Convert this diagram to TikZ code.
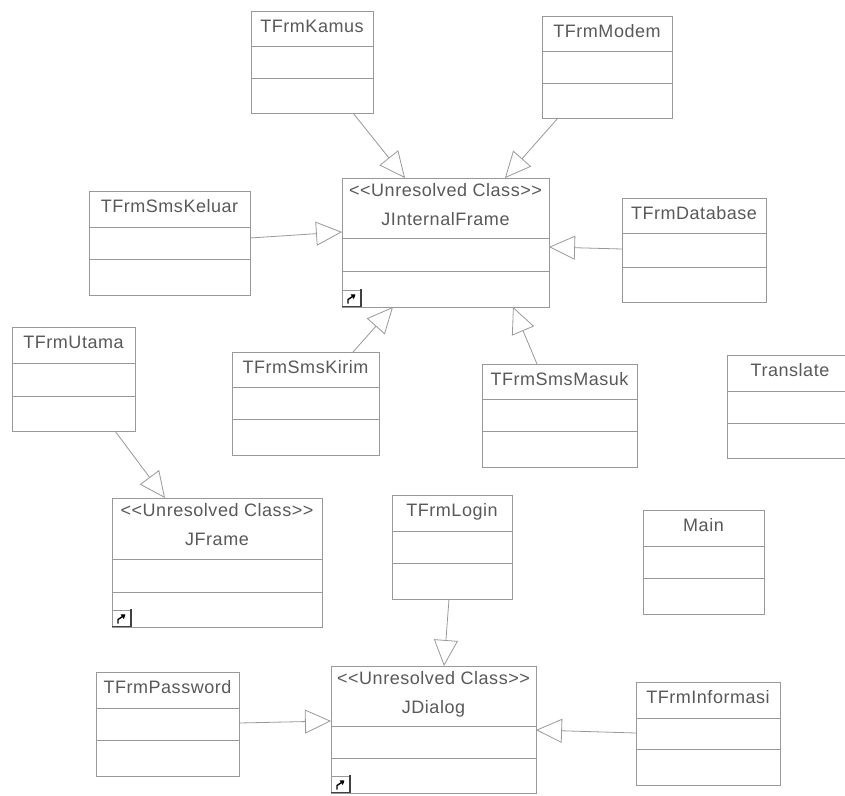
\documentclass[tikz,border=0pt]{standalone}
\usepackage{fontspec}
\newfontfamily\umlfont{Liberation Sans}[LetterSpace=3]
\usetikzlibrary{arrows.meta}
\definecolor{linegray}{gray}{0.6}
\definecolor{textgray}{gray}{0.35}
\tikzset{
	umlbox/.style={draw=linegray,line width=0.8pt,rectangle,anchor=north west,inner sep=0pt,outer sep=0pt},
	umldiv/.style={draw=linegray,line width=0.8pt},
	umltitle/.style={anchor=base,inner sep=0pt,text=textgray,font=\umlfont\fontsize{18}{20}\selectfont},
	gen/.style={draw=linegray,line width=0.8pt,-{Triangle[open,length=26pt,width=24pt]}},
}
% box: name, x, y, width, height, first divider, second divider
\newcommand\umlbox[7]{%
	\node[umlbox,minimum width=#4pt,minimum height=#5pt] (#1) at (#2,#3) {};
	\draw[umldiv] ([yshift=-#6pt]#1.north west) -- ([yshift=-#6pt]#1.north east)
		([yshift=-#7pt]#1.north west) -- ([yshift=-#7pt]#1.north east);}
\newcommand\umlclass[8]{%
	\umlbox{#1}{#2}{#3}{#4}{#5}{#6}{#7}
	\node[umltitle] (#1-name) at ([yshift=-21pt]#1.north) {#8};}
\newcommand\umlextern[8]{%
	\umlbox{#1}{#2}{#3}{#4}{#5}{#6}{#7}
	\node[umltitle] (#1-st) at ([yshift=-18pt]#1.north) {<<Unresolved Class>>};
	\node[umltitle] (#1-name) at ([yshift=-47pt]#1.north) {#8};
	\draw[linegray,fill=white,line width=0.6pt] (#1.south west) rectangle ++(19,-17);
	\draw[black!75,line width=1.3pt] ([yshift=0.6pt]#1.south west) -- ++(19,0) -- ++(0,-17);
	\draw[black,line width=1.4pt,-{Triangle[length=4pt,width=5.5pt]}] ([xshift=6pt,yshift=3.5pt]#1.south west)
		-- ++(0,-4) -- ([xshift=13.5pt,yshift=12.5pt]#1.south west);}

\begin{document}
\begin{tikzpicture}[x=1pt,y=-1pt]
	\clip (0,0) rectangle (845,795);
	\fill[white] (0,0) rectangle (845,795);
	\umlclass{kamus}{251}{11}{122}{102}{35}{67}{TFrmKamus}
	\umlclass{modem}{542}{16}{130}{102}{35}{67}{TFrmModem}
	\umlextern{jif}{342}{178}{207}{129}{60}{93}{JInternalFrame}
	\umlclass{keluar}{89}{191}{161}{104}{36}{68}{TFrmSmsKeluar}
	\umlclass{database}{622}{198}{144}{104}{35}{69}{TFrmDatabase}
	\umlclass{utama}{12}{327}{123}{104}{36}{69}{TFrmUtama}
	\umlclass{kirim}{232}{352}{147}{103}{35}{67}{TFrmSmsKirim}
	\umlclass{masuk}{482}{364}{155}{103}{35}{67}{TFrmSmsMasuk}
	\umlbox{translate}{727}{355}{128}{103}{36}{68}
	\node[umltitle] (translate-name) at ([yshift=-21pt,xshift=63pt]translate.north west) {Translate};
	\umlextern{jframe}{112}{498}{210}{129}{61}{94}{JFrame}
	\umlclass{login}{392}{495}{120}{104}{36}{68}{TFrmLogin}
	\umlclass{main}{643}{510}{121}{104}{36}{68}{Main}
	\umlclass{password}{96}{672}{143}{104}{36}{68}{TFrmPassword}
	\umlextern{jdialog}{331}{666}{205}{127}{60}{92}{JDialog}
	\umlclass{informasi}{636}{682}{144}{103}{36}{67}{TFrmInformasi}
	% generalisations
	\draw[gen] ([xshift=102pt]kamus.south west) -- ([xshift=63pt]jif.north west);
	\draw[gen] ([xshift=16pt]modem.south west) -- ([xshift=163pt]jif.north west);
	\draw[gen] ([yshift=-47pt]keluar.north east) -- ([yshift=-54pt]jif.north west);
	\draw[gen] ([yshift=-51pt]database.north west) -- ([yshift=-69pt]jif.north east);
	\draw[gen] ([xshift=121pt]kirim.north west) -- ([xshift=51pt]jif.south west);
	\draw[gen] ([xshift=55pt]masuk.north west) -- ([xshift=171pt]jif.south west);
	\draw[gen] ([xshift=103pt]utama.south west) -- ([xshift=53pt]jframe.north west);
	\draw[gen] ([xshift=57pt]login.south west) -- ([xshift=113pt]jdialog.north west);
	\draw[gen] ([yshift=-51pt]password.north east) -- ([yshift=-55pt]jdialog.north west);
	\draw[gen] ([yshift=-51pt]informasi.north west) -- ([yshift=-64pt]jdialog.north east);
\end{tikzpicture}
\end{document}
